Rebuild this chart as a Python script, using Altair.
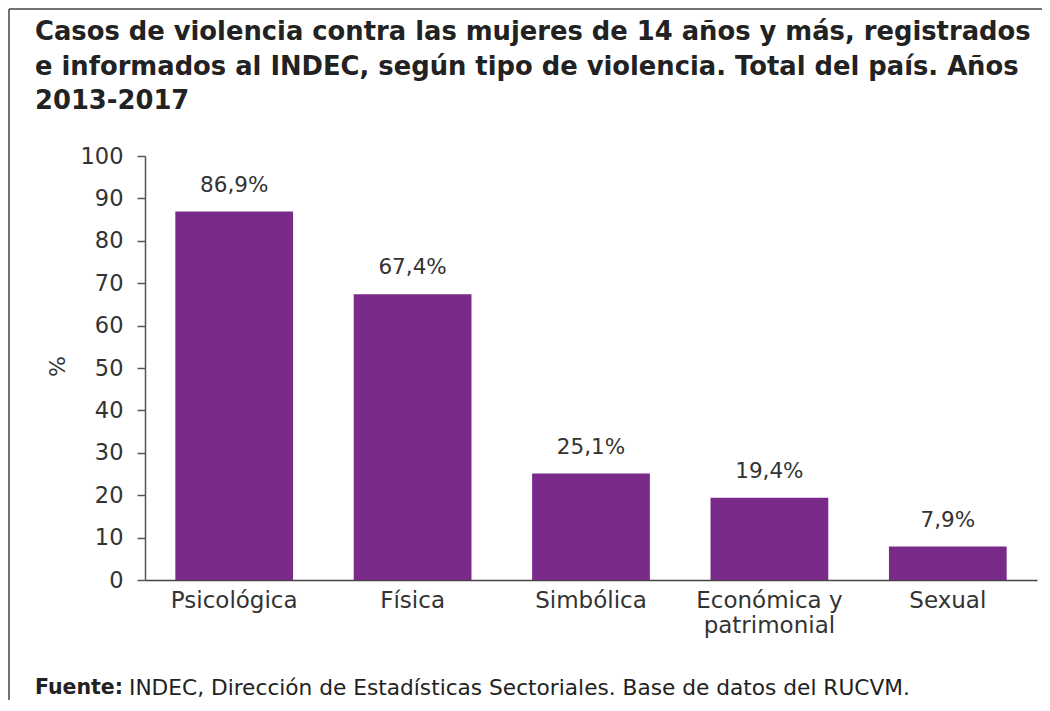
import altair as alt
import pandas as pd

categories = ["Psicológica", "Física", "Simbólica", "Económica y\npatrimonial", "Sexual"]
values = [86.9, 67.4, 25.1, 19.4, 7.9]
labels = [f"{v:.1f}".replace(".", ",") + "%" for v in values]
y_ticks = list(range(0, 101, 10))

title_lines = [
    "Casos de violencia contra las mujeres de 14 años y más, registrados",
    "e informados al INDEC, según tipo de violencia. Total del país. Años",
    "2013-2017",
]
source_bold = "Fuente:"
source_text = "INDEC, Dirección de Estadísticas Sectoriales. Base de datos del RUCVM."

df = pd.DataFrame({"tipo": categories, "valor": values, "etiqueta": labels})

FONT = "DejaVu Sans"
TXT = "#333333"
BAR = "#7a2a88"

W, H = 892, 424

base = alt.Chart(df)

x_enc = alt.X(
    "tipo:N",
    sort=categories,
    scale=alt.Scale(paddingInner=0.34, paddingOuter=0.17),
    axis=alt.Axis(
        title=None,
        labelAngle=0,
        ticks=False,
        labelPadding=9,
        labelFontSize=23,
        labelColor=TXT,
        labelFont=FONT,
        labelLineHeight=25,
        labelExpr="split(datum.label, '\\n')",
        domainColor="#444444",
        domainWidth=1.5,
    ),
)
y_enc = alt.Y(
    "valor:Q",
    scale=alt.Scale(domain=[0, 100], nice=False),
    axis=alt.Axis(
        title="%",
        values=y_ticks,
        grid=False,
        tickSize=8,
        tickColor="#555555",
        tickWidth=1.5,
        domainColor="#555555",
        domainWidth=1.5,
        labelPadding=14,
        labelFontSize=22.5,
        labelColor=TXT,
        labelFont=FONT,
        titleFont=FONT,
        titleFontSize=22,
        titleFontWeight="normal",
        titleColor=TXT,
        titleX=-88,
        titleY=210,
        titleBaseline="middle",
        titleAngle=-90,
    ),
)

bars = base.mark_bar(color=BAR).encode(x=x_enc, y=y_enc)

text = base.mark_text(
    baseline="bottom", dy=-15, fontSize=21.5, color=TXT, font=FONT
).encode(x=alt.X("tipo:N", sort=categories), y="valor:Q", text="etiqueta:N")

one = pd.DataFrame({"k": [0]})
border_top = alt.Chart(one).mark_rule(color="#444444", strokeWidth=1.5).encode(
    x=alt.value(-136), x2=alt.value(W + 10), y=alt.value(-147)
)
border_left = alt.Chart(one).mark_rule(color="#444444", strokeWidth=1.5).encode(
    x=alt.value(-136), y=alt.value(-147), y2=alt.value(H + 120)
)

title_marks = [
    alt.Chart(one).mark_text(
        align="left", baseline="middle", fontSize=25.8, fontWeight="bold",
        color="#222222", font=FONT,
    ).encode(x=alt.value(-110), y=alt.value(yy), text=alt.value(line))
    for line, yy in zip(title_lines, [-124, -89, -55])
]

foot_bold = alt.Chart(one).mark_text(
    align="left", baseline="middle", fontSize=20.5, fontWeight="bold", color="#222222", font=FONT
).encode(x=alt.value(-110), y=alt.value(532), text=alt.value(source_bold))
foot_text = alt.Chart(one).mark_text(
    align="left", baseline="middle", fontSize=21.7, color="#222222", font=FONT
).encode(x=alt.value(-16), y=alt.value(532), text=alt.value(source_text))

chart = (
    alt.layer(bars, text, border_top, border_left, *title_marks, foot_bold, foot_text)
    .properties(
        width=W,
        height=H,
        autosize=alt.AutoSizeParams(type="none"),
        padding={"left": 137, "top": 148, "right": 5, "bottom": 123},
    )
    .configure_view(stroke="transparent")
)

chart.save("out.html", embed_options={"renderer": "svg", "actions": False})
